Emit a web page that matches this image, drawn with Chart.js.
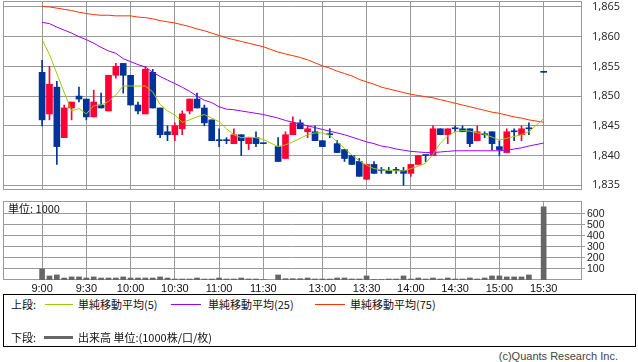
<!DOCTYPE html>
<html>
<head>
<meta charset="utf-8">
<script src="https://cdn.jsdelivr.net/npm/chart.js@4.4.1/dist/chart.umd.min.js"></script>
<style>
  body { margin: 0; background: #fff; }
  #page { position: relative; width: 638px; height: 362px; overflow: hidden; font-family: 'Noto Sans CJK JP', sans-serif; color: #111; }
  #price { position: absolute; left: 0; top: 0; }
  #volume { position: absolute; left: 0; top: 194px; }
  #unit { position: absolute; left: 8px; top: 201px; font-size: 11px; line-height: 14px; }
  #legend { position: absolute; left: 3px; top: 294px; width: 631px; height: 51px; border: 1px solid #000; font-size: 11px; }
  #legend .t { position: absolute; line-height: 14px; white-space: nowrap; }
  #legend .ln { position: absolute; height: 0; }
  #copy { position: absolute; right: 20px; top: 350px; font-family: 'Liberation Sans', sans-serif; font-size: 11px; color: #444; }
</style>
</head>
<body>
<div id="page">
  <canvas id="price" width="638" height="194"></canvas>
  <canvas id="volume" width="638" height="100"></canvas>
  <div id="unit">単位: 1000</div>
  <div id="legend">
    <span class="t" style="left:7px;top:2px">上段:</span>
    <span class="ln" style="left:41px;width:28px;top:9px;border-top:1px solid #99cc00"></span>
    <span class="t" style="left:74px;top:2px">単純移動平均(5)</span>
    <span class="ln" style="left:167px;width:30px;top:9px;border-top:1px solid #9900ff"></span>
    <span class="t" style="left:204px;top:2px">単純移動平均(25)</span>
    <span class="ln" style="left:311px;width:30px;top:9px;border-top:1px solid #ff3300"></span>
    <span class="t" style="left:346px;top:2px">単純移動平均(75)</span>
    <span class="t" style="left:7px;top:35px">下段:</span>
    <span class="ln" style="left:40px;width:29px;top:41px;border-top:3px solid #666"></span>
    <span class="t" style="left:74px;top:35px">出来高 単位:(1000株/口/枚)</span>
  </div>
  <div id="copy">(c)Quants Research Inc.</div>
</div>
<script>
const priceCanvas = document.getElementById('price');
const volumeCanvas = document.getElementById('volume');

// 5 minute slots: 0 = 9:00 ... 30 = 11:30, 31 = lunch gap, 32 = 12:30 ... 68 = 15:30 (67 = closing auction, empty)
const tickSlots = [0, 6, 12, 18, 24, 30, 38, 44, 50, 56, 62, 68];
const tickLabels = ['9:00', '9:30', '10:00', '10:30', '11:00', '11:30', '13:00', '13:30', '14:00', '14:30', '15:00', '15:30'];
const priceTicks = [1835, 1840, 1845, 1850, 1855, 1860, 1865];
const volumeTicks = [100, 200, 300, 400, 500, 600];

const opens = [
  1854, 1847, 1851.5, 1843, 1848, 1850, 1849.5, 1846.5, 1848.5, 1847.5,
  1853.5, 1855.5, 1853.5, 1848.5, 1847, 1854, 1848, 1844, 1843.5, 1844.5,
  1847.5, 1849.5, 1848, 1846, 1842.5, 1842.5, 1842, 1843.5, 1842, 1843,
  1842, null, 1841.5, 1839.5, 1843.5, 1845.5, 1844, 1844, 1842.5, 1843.5,
  1842, 1841, 1840, 1839, 1836, 1838.5, 1837.5, 1837.5, 1837.5, 1837.5,
  1837, 1838.5, 1840, 1840, 1844.5, 1843.5, 1844.5, 1844.5, 1844.5, 1842.5,
  1843.5, 1844, 1841.5, 1840.5, 1844, 1843.5, 1844.5, null, 1854
];
const highs = [
  1856, 1855, 1852.5, 1848.5, 1849, 1851.5, 1849.5, 1851, 1850.5, 1853.5,
  1855.5, 1855.5, 1853.5, 1849, 1855, 1854.5, 1848, 1845, 1845.5, 1847.5,
  1849.5, 1850.5, 1848.5, 1846, 1844.5, 1843, 1844.5, 1843.5, 1843, 1844,
  1842, null, 1843, 1844, 1846.5, 1846, 1845, 1845, 1842.5, 1844.5,
  1842.5, 1841, 1840, 1839.5, 1838.5, 1839, 1838, 1838, 1838, 1838,
  1838.5, 1840, 1840, 1845, 1844.5, 1844.5, 1845, 1845, 1844.5, 1845,
  1844, 1844, 1842.5, 1844.5, 1844.5, 1845, 1845.5, null, 1854
];
const lows = [
  1845, 1846, 1838.5, 1843, 1846, 1849, 1846, 1846.5, 1848, 1847.5,
  1853, 1850.5, 1848.5, 1847, 1847, 1848, 1843, 1842.5, 1842.5, 1843.5,
  1847, 1848, 1845, 1842.5, 1841.5, 1842, 1842, 1840, 1841, 1841.5,
  1842, null, 1839, 1839.5, 1843.5, 1844.5, 1843, 1842.5, 1841.5, 1843,
  1840.5, 1839, 1838.5, 1836.5, 1836, 1837, 1837, 1837, 1837, 1835,
  1836.5, 1838.5, 1839, 1840, 1843.5, 1842, 1844, 1844, 1841.5, 1842.5,
  1843, 1841, 1840, 1840.5, 1842.5, 1842.5, 1843.5, null, 1854
];
const closes = [
  1846, 1852, 1841.5, 1848, 1849, 1849.5, 1846.5, 1849, 1848, 1853.5,
  1855, 1853.5, 1848.5, 1847.5, 1854.5, 1848, 1843.5, 1843.5, 1845, 1847,
  1849.5, 1848, 1845.5, 1842.5, 1842.5, 1842.5, 1843.5, 1842.5, 1843, 1842,
  1842, null, 1839, 1843.5, 1845.5, 1844.5, 1844.5, 1842.5, 1841.5, 1843.5,
  1840.5, 1839.5, 1838.5, 1836.5, 1838.5, 1837, 1837.5, 1837, 1837.5, 1837,
  1838.5, 1840, 1840, 1844.5, 1843.5, 1844.5, 1844.5, 1844, 1842, 1844,
  1843.5, 1842, 1841, 1844, 1844, 1844.5, 1844.5, null, 1854
];

// moving averages
const ma5 = [
  1859.5, 1857.0, 1853.8, 1850.6, 1847.5, 1847.9, 1847.0, 1848.4, 1848.5, 1849.1,
  1850.2, 1851.7, 1851.7, 1851.7, 1851.7, 1850.7, 1848.6, 1847.5, 1846.8, 1845.6,
  1846.0, 1846.5, 1846.9, 1846.3, 1845.7, 1844.5, 1843.5, 1843.0, 1843.1, 1843.0,
  1842.7, null, 1841.5, 1841.8, 1842.3, 1842.9, 1843.5, 1843.8, 1843.8, 1843.4,
  1842.3, 1841.2, 1840.1, 1839.1, 1838.4, 1837.8, 1837.6, 1837.5, 1837.4, 1837.4,
  1837.8, 1838.2, 1838.7, 1840.2, 1842.1, 1843.3, 1844.0, 1844.2, 1844.1, 1843.8,
  1843.6, 1843.1, 1842.6, 1842.9, 1843.2, 1843.5, 1844.0, null, 1846.2
];
const ma25 = [
  1862.4, 1862.2, 1861.6, 1861.1, 1860.6, 1860.0, 1859.5, 1858.9, 1858.2, 1857.6,
  1857.2, 1856.3, 1855.8, 1855.3, 1854.9, 1854.0, 1853.3, 1852.7, 1852.1, 1851.5,
  1850.8, 1850.0, 1849.3, 1848.9, 1848.2, 1847.8, 1847.7, 1847.5, 1847.3, 1847.1,
  1846.9, null, 1846.3, 1845.9, 1845.6, 1845.3, 1845.0, 1844.7, 1844.4, 1844.1,
  1843.8, 1843.5, 1843.1, 1842.7, 1842.3, 1842.0, 1841.6, 1841.4, 1841.1, 1840.9,
  1840.7, 1840.6, 1840.5, 1840.5, 1840.6, 1840.7, 1840.8, 1840.8, 1840.8, 1840.8,
  1840.8, 1840.8, 1840.8, 1840.9, 1841.1, 1841.3, 1841.6, null, 1842.1
];
const ma75 = [
  1865.1, 1865.0, 1864.8, 1864.6, 1864.4, 1864.1, 1863.9, 1863.7, 1863.6, 1863.6,
  1863.5, 1863.5, 1863.5, 1863.3, 1863.2, 1863.0, 1862.7, 1862.5, 1862.3, 1862.0,
  1861.7, 1861.3, 1861.0, 1860.6, 1860.2, 1859.8, 1859.5, 1859.2, 1858.9, 1858.6,
  1858.3, null, 1857.4, 1857.1, 1856.8, 1856.5, 1856.1, 1855.6, 1855.1, 1854.7,
  1854.2, 1853.8, 1853.4, 1852.8, 1852.4, 1852.0, 1851.5, 1851.2, 1850.9, 1850.6,
  1850.3, 1850.1, 1849.9, 1849.7, 1849.4, 1849.1, 1848.8, 1848.5, 1848.2, 1847.9,
  1847.6, 1847.3, 1847.1, 1846.8, 1846.5, 1846.3, 1846.0, null, 1845.6
];

// volume, unit 1000
const volumes = [
  100, 37, 46, 18, 28, 28, 18, 28, 18, 18,
  18, 28, 18, 18, 18, 18, 28, 18, 9, 9,
  9, 18, 9, 9, 18, 9, 9, 18, 9, 9,
  3, null, 46, 12, 12, 12, 18, 9, 9, 9,
  18, 18, 9, 9, 37, 4, 4, 9, 9, 37,
  9, 18, 9, 18, 9, 18, 9, 9, 18, 9,
  18, 37, 37, 28, 28, 28, 46, null, 665
];

const UP = '#ff0033';
const DOWN = '#003399';
const GRID = '#999';
const X_MIN = -5.3;
const X_MAX = 73.2;

const candleColors = opens.map((o, i) => (closes[i] > o ? UP : DOWN));

// gray box round the plot area
const framePlugin = {
  id: 'frame',
  beforeDatasetsDraw(chart) {
    const a = chart.chartArea;
    const ctx = chart.ctx;
    ctx.save();
    ctx.strokeStyle = GRID;
    ctx.lineWidth = 1;
    ctx.strokeRect(Math.round(a.left) + 0.5, Math.round(a.top) + 0.5,
      Math.round(a.right - a.left) - 1, Math.round(a.bottom - a.top) - 1);
    ctx.restore();
  }
};

function timeAxis(showLabels) {
  return {
    type: 'linear',
    min: X_MIN,
    max: X_MAX,
    offset: false,
    afterBuildTicks: s => { s.ticks = tickSlots.map(v => ({ value: v })); },
    afterFit: s => {
      s.height = showLabels ? 14 : 0;
      s.paddingLeft = 0;
      s.paddingRight = 0;
    },
    grid: { color: GRID, drawTicks: false, offset: false },
    border: { display: false },
    ticks: {
      display: showLabels,
      autoSkip: false,
      maxRotation: 0,
      padding: 2,
      color: '#111',
      font: { family: "'Liberation Sans Narrow', 'Liberation Sans', sans-serif", size: 11 },
      callback: (v, i) => tickLabels[i]
    }
  };
}

function rows(values) {
  return values.map((v, i) => ({ x: i, y: v }));
}

const wicks = lows.map((l, i) => ({ x: i, y: l === null ? null : [l, highs[i]] }));
const bodies = opens.map((o, i) => ({ x: i, y: o === null ? null : [o, closes[i]] }));

new Chart(priceCanvas, {
  type: 'bar',
  data: {
    datasets: [
      { type: 'line', data: rows(ma75), borderColor: '#ff3300', borderWidth: 1, pointRadius: 0, spanGaps: true, order: 1 },
      { type: 'line', data: rows(ma25), borderColor: '#9900ff', borderWidth: 1, pointRadius: 0, spanGaps: true, order: 2 },
      { type: 'line', data: rows(ma5), borderColor: '#99cc00', borderWidth: 1, pointRadius: 0, spanGaps: true, order: 0 },
      { data: wicks, backgroundColor: candleColors, barThickness: 1, grouped: false, order: 4 },
      { data: bodies, backgroundColor: candleColors, barThickness: 6, minBarLength: 1, grouped: false, order: 3 }
    ]
  },
  options: {
    responsive: false,
    animation: false,
    events: [],
    layout: { padding: { left: 3, top: 1, right: 0, bottom: 4 } },
    plugins: { legend: { display: false }, tooltip: { enabled: false } },
    scales: {
      x: timeAxis(false),
      y: {
        position: 'right',
        min: 1834.2,
        max: 1866.0,
        afterBuildTicks: s => { s.ticks = priceTicks.map(v => ({ value: v })); },
        afterFit: s => { s.width = 56; s.paddingTop = 0; s.paddingBottom = 0; },
        grid: { color: GRID, drawTicks: false },
        border: { display: false },
        ticks: {
          padding: 10,
          color: '#222',
          font: { family: "'Open Sans', sans-serif", size: 11 },
          callback: v => v.toLocaleString('en-US')
        }
      }
    }
  },
  plugins: [framePlugin]
});

new Chart(volumeCanvas, {
  type: 'bar',
  data: {
    datasets: [
      { data: rows(volumes), backgroundColor: '#666', barThickness: 5, grouped: false }
    ]
  },
  options: {
    responsive: false,
    animation: false,
    events: [],
    layout: { padding: { left: 3, top: 7, right: 0, bottom: 0 } },
    plugins: { legend: { display: false }, tooltip: { enabled: false } },
    scales: {
      x: timeAxis(true),
      y: {
        position: 'right',
        min: 0,
        max: 718,
        afterBuildTicks: s => { s.ticks = volumeTicks.map(v => ({ value: v })); },
        afterFit: s => { s.width = 56; s.paddingTop = 0; s.paddingBottom = 0; },
        grid: { color: GRID, tickLength: 3 },
        border: { display: false },
        ticks: {
          padding: 2,
          color: '#222',
          font: { family: "'Liberation Sans Narrow', 'Liberation Sans', sans-serif", size: 10.5 }
        }
      }
    }
  },
  plugins: [framePlugin]
});
</script>
</body>
</html>
